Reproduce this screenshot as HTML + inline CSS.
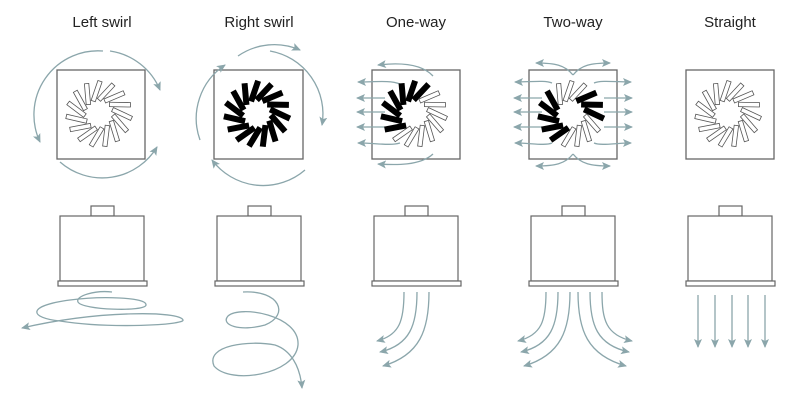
<!DOCTYPE html>
<html><head><meta charset="utf-8"><style>
html,body{margin:0;padding:0;background:#fff;}
svg{display:block}
text{font-family:"Liberation Sans",sans-serif;font-size:15px;fill:#222;}
</style></head><body>
<svg id="s" width="800" height="400" viewBox="0 0 800 400" xmlns="http://www.w3.org/2000/svg">
<defs>
<marker id="a" markerWidth="10" markerHeight="8" refX="8" refY="4" orient="auto" markerUnits="userSpaceOnUse">
<path d="M0,0 L9,4 L0,8 L2,4 Z" fill="#8ba6ab"/></marker>
</defs>
<g text-anchor="middle">
<text x="102" y="27">Left swirl</text>
<text x="259" y="27">Right swirl</text>
<text x="416" y="27">One-way</text>
<text x="573" y="27">Two-way</text>
<text x="730" y="27">Straight</text>
</g>
<g id="squares" fill="#fff" stroke="#666" stroke-width="1.3">
<rect x="57" y="70" width="88" height="89"/>
<rect x="214" y="70" width="89" height="89"/>
<rect x="372" y="70" width="88" height="89"/>
<rect x="529" y="70" width="88" height="89"/>
<rect x="686" y="70" width="88" height="89"/>
</g>
<g fill="none" stroke="#8ba6ab" stroke-width="1.3" marker-end="url(#a)">
<path d="M103,51 A64,64 0 0 0 40,142"/>
<path d="M60,162 A64,64 0 0 0 157,147"/>
<path d="M110,51 A64,64 0 0 1 160,90"/>
<path d="M238,56 A64,64 0 0 1 300,50" />
<path d="M270,51 A64,64 0 0 1 322,125"/>
<path d="M305,170 A64,64 0 0 1 212,160"/>
<path d="M200,140 A64,64 0 0 1 225,65"/>
<path d="M433,76 C420,62 395,63 378,65"/>
<path d="M433,154 C420,166 395,165 378,164"/>
<path d="M400,84 C390,80 375,82 358,82"/>
<path d="M385,98 L357,98"/>
<path d="M385,112 L357,112"/>
<path d="M385,127 L357,127"/>
<path d="M400,143 C390,146 375,143 358,143"/>
<path d="M573,75 C565,65 555,63 536,63"/>
<path d="M573,75 C581,65 591,63 610,63"/>
<path d="M573,154 C565,164 555,166 536,166"/>
<path d="M573,154 C581,164 591,166 610,166"/>
<path d="M552,83 C545,80 530,82 515,82"/>
<path d="M542,98 L514,98"/>
<path d="M542,112 L514,112"/>
<path d="M542,127 L514,127"/>
<path d="M552,143 C545,146 530,143 515,143"/>
<path d="M594,83 C601,80 616,82 631,82"/>
<path d="M604,98 L632,98"/>
<path d="M604,112 L632,112"/>
<path d="M604,127 L632,127"/>
<path d="M594,143 C601,146 616,143 631,143"/>
</g>
<g id="fans"></g>
<g fill="#fff" stroke="#666" stroke-width="1.2">
<g><rect x="91" y="206" width="23" height="10"/><rect x="60" y="216" width="84" height="65"/><rect x="58" y="281" width="89" height="5"/></g>
<g transform="translate(157,0)"><rect x="91" y="206" width="23" height="10"/><rect x="60" y="216" width="84" height="65"/><rect x="58" y="281" width="89" height="5"/></g>
<g transform="translate(314,0)"><rect x="91" y="206" width="23" height="10"/><rect x="60" y="216" width="84" height="65"/><rect x="58" y="281" width="89" height="5"/></g>
<g transform="translate(471,0)"><rect x="91" y="206" width="23" height="10"/><rect x="60" y="216" width="84" height="65"/><rect x="58" y="281" width="89" height="5"/></g>
<g transform="translate(628,0)"><rect x="91" y="206" width="23" height="10"/><rect x="60" y="216" width="84" height="65"/><rect x="58" y="281" width="89" height="5"/></g>
</g>
<g fill="none" stroke="#8ba6ab" stroke-width="1.3" marker-end="url(#a)">
<path d="M112,292 C95,290 75,296 78,302 C82,310 145,312 146,305 C147,297 100,296 70,300 C25,306 30,318 60,321 C110,329 185,325 183,320 C180,311 100,310 22,328"/>
<path d="M243,292 C280,290 290,315 265,325 C240,332 220,325 228,316 C240,305 300,315 298,345 C295,375 230,385 214,366 C205,345 250,340 275,345 C290,350 300,365 302,388"/>
<path d="M404,292 C404,320 400,335 377,341"/>
<path d="M417,292 C417,325 410,345 380,352"/>
<path d="M429,292 C429,330 420,355 383,366"/>
<path d="M546,292 C546,320 542,335 518,341"/>
<path d="M558,292 C558,325 551,345 521,352"/>
<path d="M570,292 C570,330 561,355 524,366"/>
<path d="M578,292 C578,330 587,355 626,366"/>
<path d="M590,292 C590,325 597,345 629,352"/>
<path d="M602,292 C602,320 606,335 632,341"/>
<path d="M698,295 L698,347"/><path d="M715,295 L715,347"/><path d="M732,295 L732,347"/><path d="M748,295 L748,347"/><path d="M765,295 L765,347"/>
</g>
</svg>
<script>
(function(){
var g=document.getElementById('fans');var ns='http://www.w3.org/2000/svg';
var cx=[99,257,414,571,728],cy=114;
function fill(k,deg){
 if(k==1)return true; if(k==0||k==4)return false;
 if(k==2)return deg>=130&&deg<=290;
 if(k==3)return (deg>=120&&deg<=220)||(deg>=290&&deg<=360)||deg<10;
}
var N=15;
for(var k=0;k<5;k++){for(var i=0;i<N;i++){
 var d=i*360/N;var b=fill(k,(d+360)%360);
 var r=document.createElementNS(ns,'rect');
 r.setAttribute('x',-10.5);r.setAttribute('y',b?-2.6:-2.2);r.setAttribute('width',21);r.setAttribute('height',b?5.2:4.4);
 r.setAttribute('fill',b?'#000':'#fff');r.setAttribute('stroke',b?'#000':'#555');r.setAttribute('stroke-width','0.8');
 r.setAttribute('transform','translate('+cx[k]+','+cy+') rotate('+d+') translate(23,0) rotate(25)');
 g.appendChild(r);
}}
})();
</script>
</body></html>
